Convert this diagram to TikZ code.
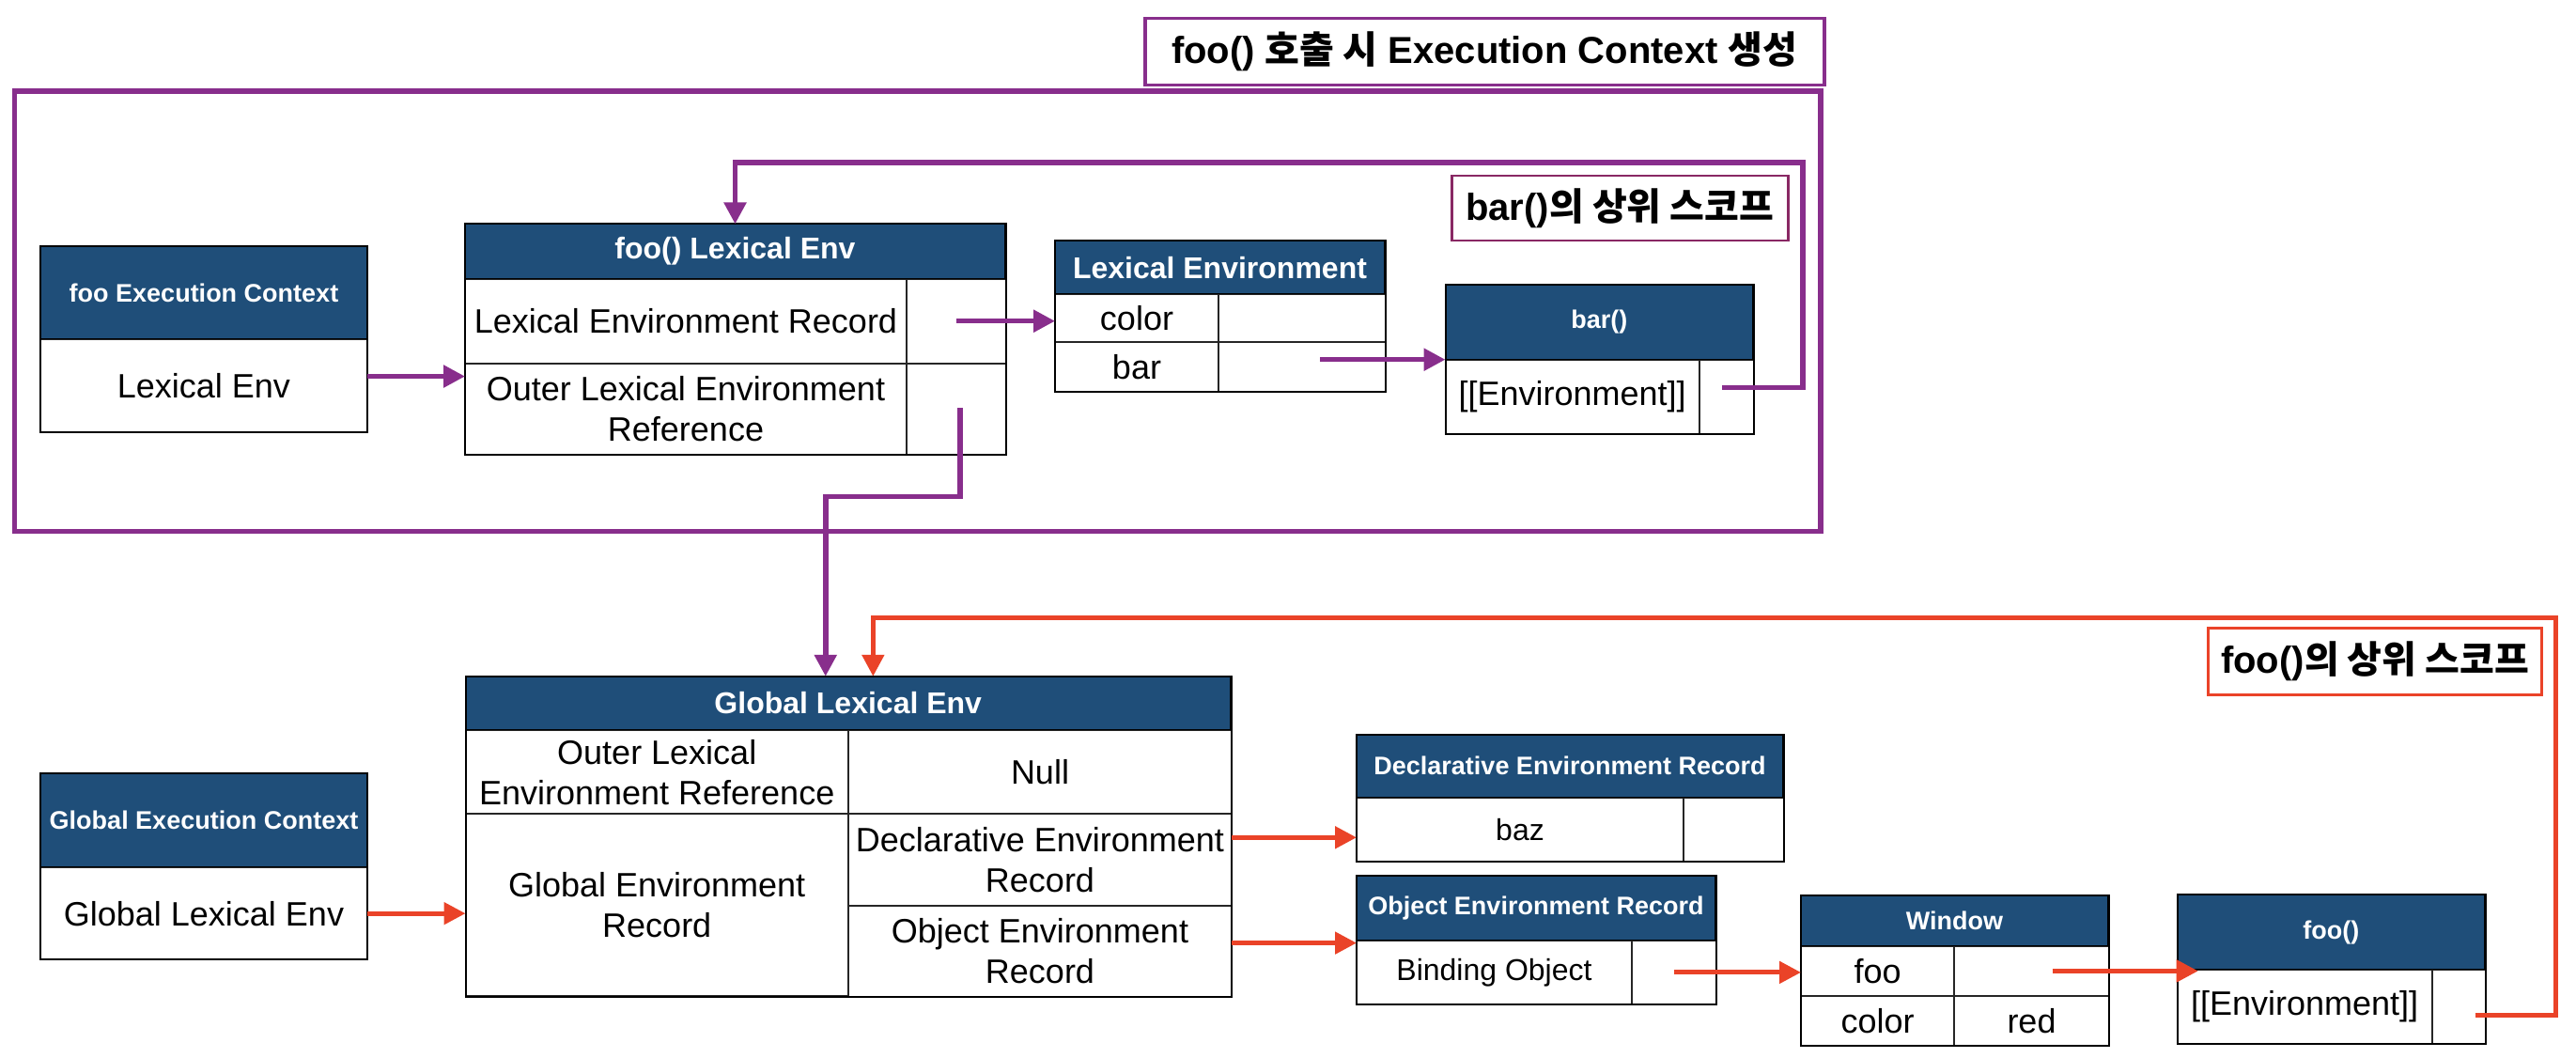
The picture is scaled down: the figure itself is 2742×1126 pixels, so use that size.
\documentclass[tikz,border=0pt]{standalone}
\usepackage{fontspec}
\setmainfont{Liberation Sans}
\newfontfamily\kr{Noto Sans CJK KR}
\usetikzlibrary{arrows.meta}
\definecolor{hdrblue}{RGB}{31,78,121}
\definecolor{scopepurple}{RGB}{136,46,140}
\definecolor{scopered}{RGB}{234,67,40}
\definecolor{barbox}{RGB}{137,40,100}
\begin{document}
\begin{tikzpicture}[x=1pt,y=-1pt,line join=miter,>={Triangle[length=23pt,width=23pt]}]
\tikzset{hdr/.style={draw=black,line width=1pt,fill=hdrblue,text=white,inner sep=0pt,anchor=north west,align=center,font=\bfseries\fontsize{32}{38}\selectfont},
hdrs/.style={hdr,font=\bfseries\fontsize{27}{32}\selectfont},
cell/.style={draw=black!85,line width=1pt,fill=white,inner sep=0pt,anchor=north west,align=center,font=\fontsize{36}{43}\selectfont},
cellsm/.style={cell,font=\fontsize{32}{38}\selectfont},
tabframe/.style={draw=black,line width=2pt},
lbl/.style={fill=white,inner sep=0pt,anchor=north west,font=\bfseries\fontsize{40}{48}\selectfont},
pline/.style={draw=scopepurple,line width=5.5pt},
rline/.style={draw=scopered,line width=5pt}}
\useasboundingbox (0,0) rectangle (2742,1126);
\draw[pline] (15.4,96.8) rectangle (1938,565.6);
\node[lbl,draw=scopepurple,line width=3.5pt,minimum width=723pt,minimum height=71.2pt] (ctxlbl) at (1217,17.6) {foo() {\kr 호출 시} Execution Context {\kr 생성}};
\node[lbl,draw=barbox,line width=2.5pt,minimum width=358pt,minimum height=69pt] (barlbl) at (1544,186) {bar(){\kr 의 상위 스코프}};
\node[lbl,draw=scopered,line width=3.3pt,minimum width=355pt,minimum height=70.7pt] (foolbl) at (2349,666.8) {foo(){\kr 의 상위 스코프}};
% foo context
\node[hdrs,minimum width=347pt,minimum height=97.2pt] (fooec) at (43,262.5) {foo Execution Context};
\node[cell,minimum width=347pt,minimum height=98.7pt] (fooecv) at (fooec.south west) {Lexical Env};
\draw[tabframe] (fooec.north west) rectangle (fooecv.south east);
\node[hdr,minimum width=574pt,minimum height=57.4pt] (foole) at (495,238.4) {foo() Lexical Env};
\node[cell,minimum width=469pt,minimum height=88.8pt] (foolr) at (foole.south west) {Lexical Environment Record};
\node[cell,minimum width=105pt,minimum height=88.8pt] (foolrv) at (foolr.north east) {};
\node[cell,minimum width=469pt,minimum height=96.8pt] (fooor) at (foolr.south west) {Outer Lexical Environment\\Reference};
\node[cell,minimum width=105pt,minimum height=96.8pt] (fooorv) at (fooor.north east) {};
\draw[tabframe] (foole.north west) rectangle (fooorv.south east);
\node[hdr,minimum width=350pt,minimum height=55.5pt] (letab) at (1123,256.4) {Lexical Environment};
\node[cell,minimum width=173pt,minimum height=50.5pt] (lecolor) at (letab.south west) {color};
\node[cell,minimum width=177pt,minimum height=50.5pt] (lecolorv) at (lecolor.north east) {};
\node[cell,minimum width=173pt,minimum height=51.6pt] (lebar) at (lecolor.south west) {bar};
\node[cell,minimum width=177pt,minimum height=51.6pt] (lebarv) at (lebar.north east) {};
\draw[tabframe] (letab.north west) rectangle (lebarv.south east);
\node[hdrs,minimum width=326.5pt,minimum height=78.1pt] (barfn) at (1538.5,303.4) {bar()};
\node[cell,minimum width=269.1pt,minimum height=78.5pt] (barenv) at (barfn.south west) {[[Environment]]};
\node[cell,minimum width=57.4pt,minimum height=78.5pt] (barenvv) at (barenv.north east) {};
\draw[tabframe] (barfn.north west) rectangle (barenvv.south east);
% global context
\node[hdrs,minimum width=347pt,minimum height=98.6pt] (gec) at (43,823.4) {Global Execution Context};
\node[cell,minimum width=347pt,minimum height=97.3pt] (gecv) at (gec.south west) {Global Lexical Env};
\draw[tabframe] (gec.north west) rectangle (gecv.south east);
\node[hdr,minimum width=813.5pt,minimum height=56.2pt] (gle) at (495.5,719.8) {Global Lexical Env};
\node[cell,minimum width=406.5pt,minimum height=88.3pt] (gleor) at (gle.south west) {Outer Lexical\\Environment Reference};
\node[cell,minimum width=407pt,minimum height=88.3pt] (gleorv) at (gleor.north east) {Null};
\node[cell,minimum width=406.5pt,minimum height=192.6pt] (glegr) at (gleor.south west) {Global Environment\\Record};
\node[cell,minimum width=407pt,minimum height=97pt] (gledr) at (glegr.north east) {Declarative Environment\\Record};
\node[cell,minimum width=407pt,minimum height=95.6pt] (gleobj) at (gledr.south west) {Object Environment\\Record};
\draw[tabframe] (gle.north west) rectangle (gleobj.south east);
\node[hdrs,minimum width=453pt,minimum height=66.4pt] (der) at (1444,781.5) {Declarative Environment Record};
\node[cellsm,minimum width=347pt,minimum height=67.4pt] (derbaz) at (der.south west) {baz};
\node[cell,minimum width=106pt,minimum height=67.4pt] (derbazv) at (derbaz.north east) {};
\draw[tabframe] (der.north west) rectangle (derbazv.south east);
\node[hdrs,minimum width=381pt,minimum height=67.1pt] (oer) at (1444,932.4) {Object Environment Record};
\node[cellsm,minimum width=292pt,minimum height=67.8pt] (oerbo) at (oer.south west) {Binding Object};
\node[cell,minimum width=89pt,minimum height=67.8pt] (oerbov) at (oerbo.north east) {};
\draw[tabframe] (oer.north west) rectangle (oerbov.south east);
\node[hdrs,minimum width=326pt,minimum height=52.4pt] (win) at (1917,953.2) {Window};
\node[cell,minimum width=162pt,minimum height=52.6pt] (winfoo) at (win.south west) {foo};
\node[cell,minimum width=164pt,minimum height=52.6pt] (winfoov) at (winfoo.north east) {};
\node[cell,minimum width=162pt,minimum height=52pt] (wincolor) at (winfoo.south west) {color};
\node[cell,minimum width=164pt,minimum height=52pt] (wincolorv) at (wincolor.north east) {red};
\draw[tabframe] (win.north west) rectangle (wincolorv.south east);
\node[hdrs,minimum width=326.3pt,minimum height=78.8pt] (foofn) at (2317.7,952.2) {foo()};
\node[cell,minimum width=269.9pt,minimum height=77.9pt] (fooenv) at (foofn.south west) {[[Environment]]};
\node[cell,minimum width=56.4pt,minimum height=77.9pt] (fooenvv) at (fooenv.north east) {};
\draw[tabframe] (foofn.north west) rectangle (fooenvv.south east);
% connectors
\coordinate (barref) at (1405,382.7);
\coordinate (barenvref) at (1833,412.5);
\coordinate (outerref) at (1022,434.3);
\coordinate (fooenvref) at (2634.6,1080.7);
\draw[pline,->] ([yshift=10pt]fooecv.east) -- ([yshift=10pt]fooecv.east -| foole.west);
\draw[pline,->] (foolrv.center) -- (foolrv.center -| letab.west);
\draw[pline,->] (barref) -- (barref -| barfn.west);
\draw[pline,->] (barenvref) -| (1919,173) -| (foole.north);
\draw[pline,->] (outerref) -- ++(0,94) -| ([xshift=-24pt]gle.north);
\draw[rline,->] (gecv.east) -- (gecv.east -| gle.west);
\draw[rline,->] ([yshift=24pt]gledr.east) -- ([yshift=24pt]gledr.east -| der.west);
\draw[rline,->] ([yshift=9pt]gleobj.east) -- ([yshift=9pt]gleobj.east -| oer.west);
\draw[rline,->] (oerbov.center) -- (oerbov.center -| win.west);
\draw[rline,->] ([xshift=22pt]winfoov.center) -- ([xshift=22pt]winfoov.center -| foofn.west);
\draw[rline,->] (fooenvref) -| (2720,657) -| ([xshift=26.6pt]gle.north);
\end{tikzpicture}
\end{document}
